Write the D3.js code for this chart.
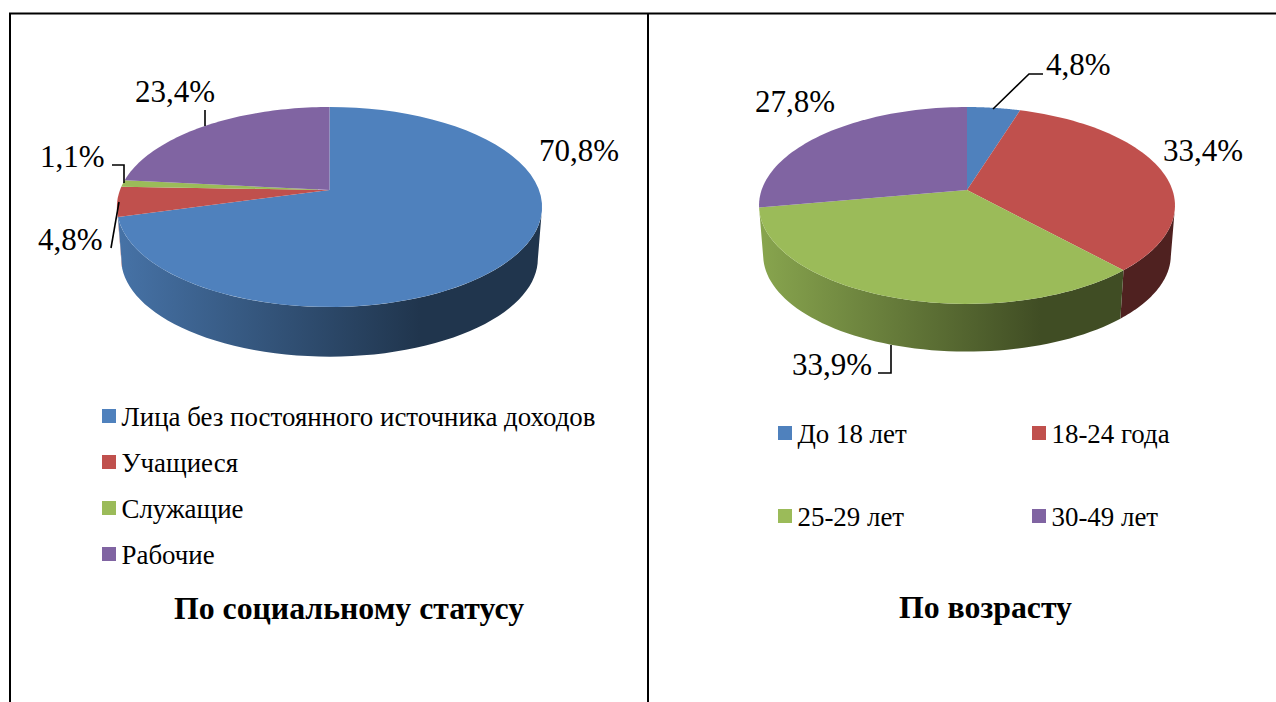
<!DOCTYPE html>
<html lang="ru">
<head>
  <meta charset="UTF-8">
  <title>Pie charts</title>
  <script src="https://d3js.org/d3.v7.min.js"></script>
  <style>
    html, body { margin: 0; padding: 0; background: #fff; overflow: hidden; }
    text { font-family: "Liberation Serif", "Times New Roman", serif; fill: #000; }
    .label { font-size: 31px; }
    .legend { font-size: 26.9px; }
    .title { font-size: 31.8px; font-weight: bold; text-anchor: middle; }
  </style>
</head>
<body>
  <svg id="chart" width="1276" height="702"></svg>
  <script>
    const colors = ["#4f81bd", "#c0504d", "#9bbb59", "#8064a2"];

    const statusNames = ["Лица без постоянного источника доходов", "Учащиеся", "Служащие", "Рабочие"];
    const statusValues = [70.8, 4.8, 1.1, 23.4];
    const statusLabels = ["70,8%", "4,8%", "1,1%", "23,4%"];

    const ageNames = ["До 18 лет", "18-24 года", "25-29 лет", "30-49 лет"];
    const ageValues = [4.8, 33.4, 33.9, 27.8];
    const ageLabels = ["4,8%", "33,4%", "33,9%", "27,8%"];

    const svg = d3.select("#chart");
    const defs = svg.append("defs");

    // table lines
    svg.append("path")
      .attr("d", "M10,702V13.5H1276M648,13V702")
      .attr("fill", "none").attr("stroke", "#000").attr("stroke-width", 2);

    // pie with perspective: circle point (u, v) goes through a homography around the apex
    function drawPie(cfg) {
      const g = svg.append("g").attr("transform", `translate(${cfg.cx},${cfg.cy})`);
      const pie = d3.pie().sort(null).startAngle(0).endAngle(2 * Math.PI);
      const arcs = pie(cfg.values);

      const rim = (a, scale, drop) => {
        const u = Math.sin(a), v = -Math.cos(a);
        const w = 1 + cfg.p * v;
        return [scale * cfg.A * u / w, scale * cfg.B * v / w + drop];
      };
      const steps = (a0, a1) => d3.range(0, 61).map(i => a0 + (a1 - a0) * i / 60);
      const line = d3.line();

      // side wall, only the front part can be seen
      const wallMin = 100 * Math.PI / 180, wallMax = 260 * Math.PI / 180;
      const walls = arcs
        .map((d, i) => ({ i, a0: Math.max(d.startAngle, wallMin), a1: Math.min(d.endAngle, wallMax) }))
        .filter(d => d.a1 > d.a0)
        .sort((a, b) => Math.abs(b.a0 + b.a1 - 2 * Math.PI) - Math.abs(a.a0 + a.a1 - 2 * Math.PI));

      walls.forEach(d => {
        const id = `${cfg.id}-wall-${d.i}`;
        const c = d3.color(colors[d.i]);
        const shade = k => d3.rgb(c.r * k, c.g * k, c.b * k).formatHex();
        // gradient coordinates are local to the translated group
        const grad = defs.append("linearGradient").attr("id", id)
          .attr("gradientUnits", "userSpaceOnUse")
          .attr("x1", cfg.gradX[0] - cfg.cx).attr("x2", cfg.gradX[1] - cfg.cx).attr("y1", 0).attr("y2", 0);
        grad.append("stop").attr("offset", 0).attr("stop-color", shade(0.88));
        grad.append("stop").attr("offset", 1).attr("stop-color", shade(0.41));
        const top = steps(d.a0, d.a1).map(a => rim(a, 1, 0));
        const bottom = steps(d.a1, d.a0).map(a => rim(a, cfg.s, cfg.depth));
        g.append("path").attr("d", line(top.concat(bottom)) + "Z").attr("fill", `url(#${id})`);
      });

      // top face
      arcs.forEach((d, i) => {
        const pts = [[0, 0]].concat(steps(d.startAngle, d.endAngle).map(a => rim(a, 1, 0)));
        g.append("path").attr("d", line(pts) + "Z").attr("fill", colors[i]);
      });

      // labels and leader lines
      cfg.labels.forEach((t, i) => {
        svg.append("text").attr("class", "label")
          .attr("x", cfg.labelPos[i][0]).attr("y", cfg.labelPos[i][1]).text(t);
      });
      cfg.leaders.forEach(l => {
        svg.append("path").attr("d", l).attr("fill", "none")
          .attr("stroke", "#000").attr("stroke-width", 1.6);
      });

      // legend
      cfg.names.forEach((t, i) => {
        const p = cfg.legendPos[i];
        svg.append("rect").attr("x", p[0]).attr("y", p[1] - 8)
          .attr("width", 14).attr("height", 14).attr("fill", colors[i]);
        svg.append("text").attr("class", "legend").attr("x", p[0] + 19.5).attr("y", p[1] + 9).text(t);
      });

      svg.append("text").attr("class", "title")
        .attr("x", cfg.titlePos[0]).attr("y", cfg.titlePos[1]).text(cfg.title);
    }

    drawPie({
      id: "status", cx: 329.5, cy: 190, A: 209.5, B: 97.1, p: -0.17, s: 0.98, depth: 52,
      gradX: [120, 420],
      values: statusValues, labels: statusLabels, names: statusNames,
      labelPos: [[539, 161], [38, 250], [40, 167], [135, 102]],
      leaders: ["M205,110V126", "M111,248L119,202", "M112,165H124V183"],
      legendPos: [[102, 417], [102, 463], [102, 509], [102, 555]],
      title: "По социальному статусу", titlePos: [349, 619]
    });

    drawPie({
      id: "age", cx: 967, cy: 190, A: 205.4, B: 96, p: -0.157, s: 0.98, depth: 50,
      gradX: [760, 1040],
      values: ageValues, labels: ageLabels, names: ageNames,
      labelPos: [[1046, 75], [1163, 161], [792, 375], [755, 112]],
      leaders: ["M993,109L1029,74H1043", "M891,345V373H878"],
      legendPos: [[778, 434], [1032, 434], [778, 517], [1032, 517]],
      title: "По возрасту", titlePos: [985.5, 618]
    });
  </script>
</body>
</html>
